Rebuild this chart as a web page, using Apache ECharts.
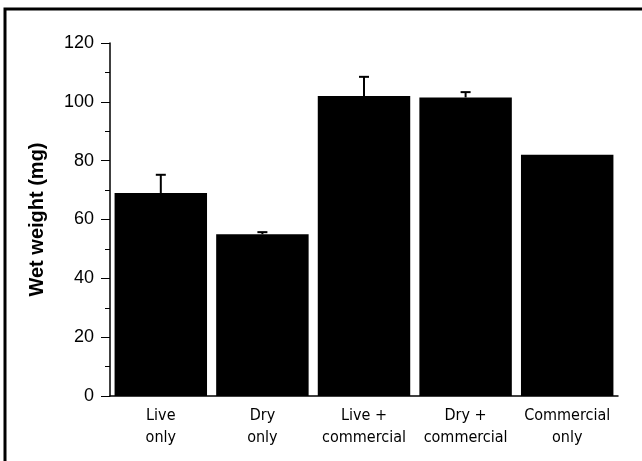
<!DOCTYPE html>
<html><head><meta charset="utf-8">
<script src="https://cdn.jsdelivr.net/npm/echarts@6/dist/echarts.min.js"></script>
<style>html,body{margin:0;padding:0;background:#fff}#c{width:642px;height:461px}</style>
</head><body><div id="c"></div>
<script>
var categories = ["Live\nonly", "Dry\nonly", "Live +\ncommercial", "Dry +\ncommercial", "Commercial\nonly"];
var values = [69, 55, 102, 101.5, 82];
var errorTops = [75.2, 55.7, 108.5, 103.3, null];
var yTicks = [0, 20, 40, 60, 80, 100, 120];

var chart = echarts.init(document.getElementById('c'));
var errData = errorTops.map(function (e, i) { return [i, values[i], e]; }).filter(function (d) { return d[2] != null; });
chart.setOption({
  animation: false,
  graphic: [{ type: 'rect', shape: { x: 5, y: 9, width: 700, height: 500 }, style: { fill: 'none', stroke: '#000', lineWidth: 3 }, z: 100 }],
  grid: { left: 110, right: 24, top: 43, bottom: 65 },
  xAxis: {
    type: 'category', data: categories,
    axisLine: { show: true, lineStyle: { color: '#000', width: 1.5 } },
    axisTick: { show: false },
    axisLabel: { interval: 0, color: '#000', fontFamily: 'DejaVu Sans Condensed, Liberation Sans, Arial', fontSize: 16, lineHeight: 22, margin: 9 }
  },
  yAxis: {
    type: 'value', min: 0, max: 120, interval: 20,
    name: 'Wet weight (mg)', nameLocation: 'middle', nameGap: 63,
    nameTextStyle: { color: '#000', fontFamily: 'Liberation Sans, Arial', fontWeight: 'bold', fontSize: 20 },
    axisLine: { show: true, lineStyle: { color: '#000', width: 1.5 } },
    axisTick: { show: true, inside: false, length: 9, lineStyle: { color: '#000' } },
    minorTick: { show: true, splitNumber: 2, length: 5, lineStyle: { color: '#000' } },
    splitLine: { show: false },
    axisLabel: { color: '#000', fontFamily: 'Liberation Sans, Arial', fontSize: 18, margin: 16,
      formatter: function (v) { return yTicks.indexOf(v) >= 0 ? String(v) : ''; } }
  },
  series: [
    { type: 'bar', data: values, barCategoryGap: '9%', itemStyle: { color: '#000' } },
    { type: 'custom', data: errData, z: 5,
      renderItem: function (params, api) {
        var base = api.coord([api.value(0), api.value(1)]);
        var top = api.coord([api.value(0), api.value(2)]);
        return { type: 'group', children: [
          { type: 'line', shape: { x1: base[0], y1: base[1], x2: top[0], y2: top[1] }, style: { stroke: '#000', lineWidth: 2 } },
          { type: 'line', shape: { x1: top[0] - 5, y1: top[1], x2: top[0] + 5, y2: top[1] }, style: { stroke: '#000', lineWidth: 2 } }
        ] };
      } }
  ]
});
</script></body></html>
